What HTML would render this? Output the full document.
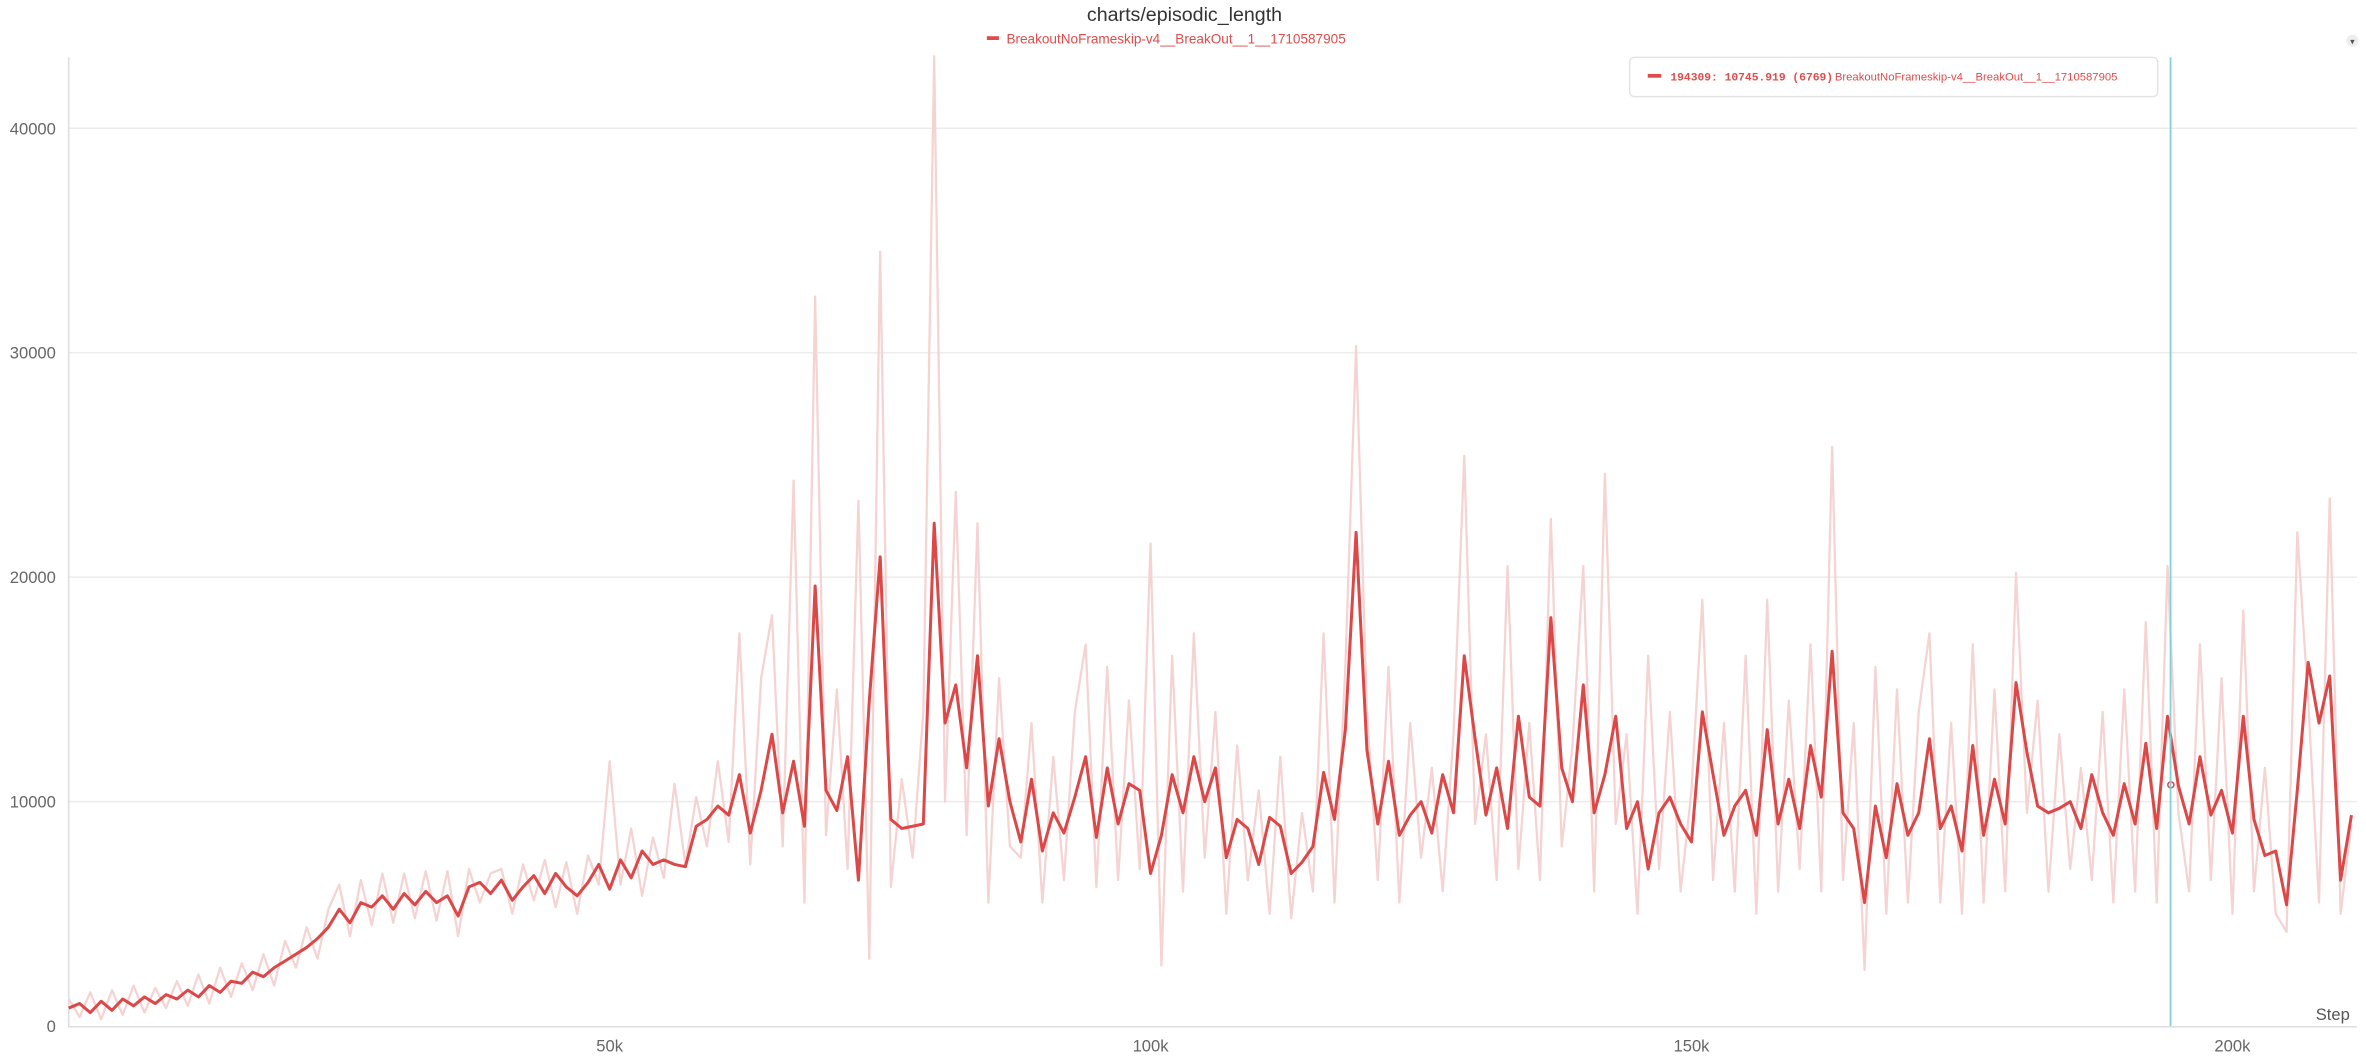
<!DOCTYPE html>
<html><head><meta charset="utf-8"><style>
body{margin:0;background:#fff;font-family:"Liberation Sans",sans-serif;overflow:hidden}
svg{display:block}
</style></head><body>
<svg id="chart" width="2366" height="1063" viewBox="0 0 1568 704.5" xmlns="http://www.w3.org/2000/svg">
<text x="785" y="14" text-anchor="middle" font-size="13" fill="#333">charts/episodic_length</text>
<g>
<rect x="654" y="24" width="8" height="2.5" fill="#e04b4b"/>
<text x="667" y="29" font-size="9" fill="#e04b4b">BreakoutNoFrameskip-v4__BreakOut__1__1710587905</text>
</g>
<g id="grid"></g>
<g id="yticks"></g>
<g id="xticks"></g>
<line x1="45.5" y1="38" x2="45.5" y2="680" stroke="#ddd"/>
<line x1="45" y1="680.5" x2="1562" y2="680.5" stroke="#ddd"/>
<g id="series"></g>
<line x1="1438.5" y1="38" x2="1438.5" y2="680" stroke="#7fd3d8" stroke-width="1.2"/>
<text x="1546" y="676" text-anchor="middle" font-size="11" fill="#555">Step</text>
<g>
<rect x="1080" y="38" width="350" height="26" rx="3" fill="#fff" stroke="#e4e4e4"/>
<rect x="1092" y="49" width="9" height="2.5" fill="#e04b4b"/>
<text x="1107" y="53.5" font-size="7.5" fill="#e04b4b" font-family="Liberation Mono,monospace" font-weight="bold">194309: 10745.919 (6769)</text>
<text x="1216" y="53.5" font-size="7.5" fill="#e04b4b">BreakoutNoFrameskip-v4__BreakOut__1__1710587905</text>
</g>
<g><circle cx="1559" cy="27" r="4" fill="#eee"/><text x="1559" y="29.5" text-anchor="middle" font-size="6" fill="#555">▾</text></g>
</svg>
<script>
const steps=[];for(let i=0;i<=211;i++)steps.push(i*1000);
const smoothed=[0.8,1.0,0.6,1.1,0.7,1.2,0.9,1.3,1.0,1.4,
1.2,1.6,1.3,1.8,1.5,2.0,1.9,2.4,2.2,2.6,
2.9,3.2,3.5,3.9,4.4,5.2,4.6,5.5,5.3,5.8,
5.2,5.9,5.4,6.0,5.5,5.8,4.9,6.2,6.4,5.9,
6.5,5.6,6.2,6.7,5.9,6.8,6.2,5.8,6.4,7.2,
6.1,7.4,6.6,7.8,7.2,7.4,7.2,7.1,8.9,9.2,
9.8,9.4,11.2,8.6,10.5,13.0,9.5,11.8,8.9,19.6,
10.5,9.6,12.0,6.5,14.5,20.9,9.2,8.8,8.9,9.0,
22.4,13.5,15.2,11.5,16.5,9.8,12.8,10.0,8.2,11.0,
7.8,9.5,8.6,10.2,12.0,8.4,11.5,9.0,10.8,10.5,
6.8,8.5,11.2,9.5,12.0,10.0,11.5,7.5,9.2,8.8,
7.2,9.3,8.9,6.8,7.3,8.0,11.3,9.2,13.2,22.0,
12.3,9.0,11.8,8.5,9.4,10.0,8.6,11.2,9.5,16.5,
12.8,9.4,11.5,8.8,13.8,10.2,9.8,18.2,11.5,10.0,
15.2,9.5,11.2,13.8,8.8,10.0,7.0,9.5,10.2,9.0,
8.2,14.0,11.2,8.5,9.8,10.5,8.5,13.2,9.0,11.0,
8.8,12.5,10.2,16.7,9.5,8.8,5.5,9.8,7.5,10.8,
8.5,9.5,12.8,8.8,9.8,7.8,12.5,8.5,11.0,9.0,
15.3,12.2,9.8,9.5,9.7,10.0,8.8,11.2,9.5,8.5,
10.8,9.0,12.6,8.8,13.8,10.7,9.0,12.0,9.4,10.5,
8.6,13.8,9.2,7.6,7.8,5.4,10.5,16.2,13.5,15.6,
6.5,9.4];
const raw=[1.2,0.4,1.5,0.3,1.6,0.5,1.8,0.6,1.7,0.8,
2.0,0.9,2.3,1.0,2.6,1.3,2.8,1.6,3.2,1.8,
3.8,2.6,4.4,3.0,5.2,6.3,4.0,6.5,4.5,6.8,
4.6,6.8,4.8,6.9,4.7,6.9,4.0,7.0,5.5,6.8,
7.0,5.0,7.2,5.6,7.4,5.3,7.3,5.0,7.6,6.3,
11.8,6.3,8.8,5.8,8.4,6.6,10.8,7.2,10.2,8.0,
11.8,8.2,17.5,7.2,15.5,18.3,8.0,24.3,5.5,32.5,
8.5,15.0,7.0,23.4,3.0,34.5,6.2,11.0,7.5,14.0,
43.2,10.0,23.8,8.5,22.4,5.5,15.5,8.0,7.5,13.5,
5.5,12.0,6.5,14.0,17.0,6.2,16.0,6.5,14.5,7.0,
21.5,2.7,16.5,6.0,17.5,7.5,14.0,5.0,12.5,6.5,
10.5,5.0,12.0,4.8,9.5,6.0,17.5,5.5,16.0,30.3,
14.0,6.5,16.0,5.5,13.5,7.5,11.5,6.0,13.0,25.4,
9.0,13.0,6.5,20.5,7.0,13.5,6.5,22.6,8.0,12.5,
20.5,6.0,24.6,9.0,13.0,5.0,16.5,7.0,14.0,6.0,
10.5,19.0,6.5,13.5,6.0,16.5,5.0,19.0,6.0,14.5,
7.0,17.0,6.0,25.8,6.5,13.5,2.5,16.0,5.0,15.0,
5.5,14.0,17.5,5.5,13.5,5.0,17.0,5.5,15.0,6.0,
20.2,9.5,14.5,6.0,13.0,7.0,11.5,6.5,14.0,5.5,
15.0,6.0,18.0,5.5,20.5,9.5,6.0,17.0,6.5,15.5,
5.0,18.5,6.0,11.5,5.0,4.2,22.0,14.5,5.5,23.5,
5.0,9.0];
const yTicks=[0,10000,20000,30000,40000];
const yTickLabels=["0","10000","20000","30000","40000"];
const xTicks=[50000,100000,150000,200000];
const xTickLabels=["50k","100k","150k","200k"];
const cursorStep=194309, cursorValue=10745.919;

const NS="http://www.w3.org/2000/svg";
const X=s=>45.5+s*0.00717;
const Y=v=>680-v*0.014875;
function mk(t,a,p){const e=document.createElementNS(NS,t);for(const k in a)e.setAttribute(k,a[k]);p.appendChild(e);return e;}
const grid=document.getElementById('grid'),yt=document.getElementById('yticks'),xt=document.getElementById('xticks'),ser=document.getElementById('series');
yTicks.forEach((v,i)=>{
 if(v>0){const g=mk('line',{x1:45,x2:1562,y1:Y(v),y2:Y(v),stroke:'#ececec'},grid);
 
 }
 const t=mk('text',{x:37,y:Y(v)+4,'text-anchor':'end','font-size':11,fill:'#666'},yt);
 t.textContent=yTickLabels[i];
 
 
});
xTicks.forEach((s,i)=>{
 const t=mk('text',{x:X(s),y:697,'text-anchor':'middle','font-size':11,fill:'#666'},xt);
 t.textContent=xTickLabels[i];
 
 
});
function path(vals){return vals.map((v,i)=>(i?'L':'M')+X(steps[i]).toFixed(1)+','+Y(v*1000).toFixed(1)).join('');}
const rl=mk('path',{d:path(raw),fill:'none',stroke:'#f5d3d3','stroke-width':1.5,'stroke-linejoin':'round'},ser);


const sl=mk('path',{d:path(smoothed),fill:'none',stroke:'#dc4848','stroke-width':2,'stroke-linejoin':'round'},ser);


const c=mk('circle',{cx:X(cursorStep),cy:Y(cursorValue),r:2,fill:'#fff',stroke:'#dc4848'},ser);


</script>
</body></html>
